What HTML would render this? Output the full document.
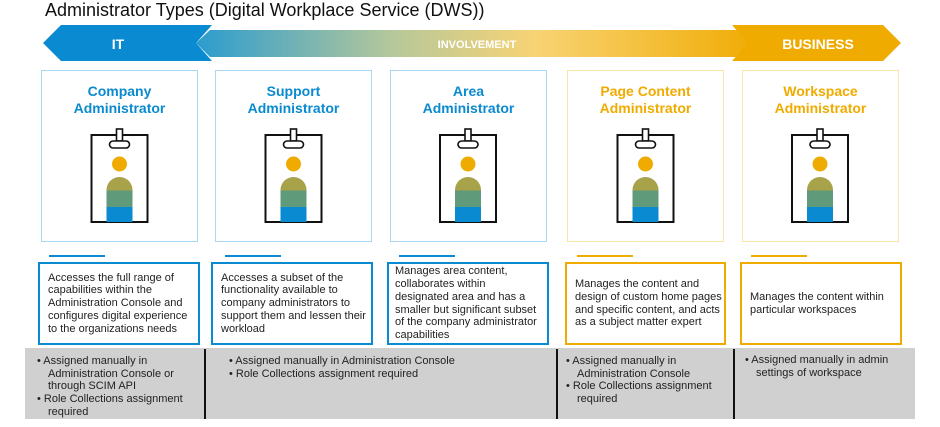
<!DOCTYPE html>
<html><head><meta charset="utf-8"><style>
body{margin:0;width:940px;height:427px;background:#fff;position:relative;overflow:hidden;font-family:"Liberation Sans",Arial,sans-serif}
.a{position:absolute}
.tb{position:absolute;top:70px;height:172px;box-sizing:border-box;border:1.5px solid #a9daf3}
.tb.y{border-color:#fbe4a6}
.tt{position:absolute;top:12px;left:0;right:0;text-align:center;font-weight:bold;font-size:14px;line-height:17px;color:#0a8ad0}
.y .tt{color:#f0ab00}
.ln{position:absolute;top:255px;height:2px;width:56px;background:#0a8ad0}
.ln.y{background:#f0ab00}
.db{position:absolute;top:262px;height:83px;box-sizing:border-box;border:2.5px solid #0a8ad0;font-size:11px;line-height:12.7px;color:#222;padding:0 0 0 8px;display:flex;align-items:center;white-space:nowrap}
.db.y{border-color:#f0ab00}
.g{position:absolute;font-size:11px;line-height:12.7px;color:#222;white-space:nowrap}
.g div{padding-left:11px;text-indent:-11px}
.v{position:absolute;top:349px;height:70px;width:2px;background:#111}
</style></head><body>
<div class="a" style="left:45px;top:0px;font-size:18px;color:#111">Administrator Types (Digital Workplace Service (DWS))</div>
<svg class="a" style="left:0;top:0" width="940" height="70">
<defs><linearGradient id="gr" x1="0" x2="1"><stop offset="0" stop-color="#2b9ccf"/><stop offset="0.35" stop-color="#b7c89a"/><stop offset="0.6" stop-color="#f8d374"/><stop offset="1" stop-color="#f0ab00"/></linearGradient></defs>
<polygon points="210,30 750,30 763,43 750,57 210,57 196,43" fill="url(#gr)"/>
<polygon points="61,25 212,25 196,43 212,61 61,61 43,43" fill="#0a8ad0"/>
<polygon points="732,25 883,25 901,43 883,61 732,61 748,43" fill="#f0ab00"/>
<text x="118" y="49" font-size="14" font-weight="bold" fill="#fff" text-anchor="middle">IT</text>
<text x="477" y="48" font-size="11" font-weight="bold" fill="#fff" text-anchor="middle">INVOLVEMENT</text>
<text x="818" y="49" font-size="14" font-weight="bold" fill="#fff" text-anchor="middle">BUSINESS</text>
</svg>
<div class="tb" style="left:41px;width:157px"><div class="tt">Company<br>Administrator</div></div>
<div class="tb" style="left:215px;width:157px"><div class="tt">Support<br>Administrator</div></div>
<div class="tb" style="left:390px;width:157px"><div class="tt">Area<br>Administrator</div></div>
<div class="tb y" style="left:567px;width:157px"><div class="tt">Page Content<br>Administrator</div></div>
<div class="tb y" style="left:742px;width:157px"><div class="tt">Workspace<br>Administrator</div></div>
<svg class="a" style="left:0;top:0" width="940" height="250">
<defs><g id="b">
<rect x="-28" y="135" width="56" height="87" fill="none" stroke="#111" stroke-width="2"/>
<path d="M-13,191 V190 A13,13 0 0 1 13,190 V191Z" fill="#a8a24a"/>
<rect x="-13" y="190.5" width="26" height="16.5" fill="#5f9a7a"/>
<rect x="-13" y="207" width="26" height="15" fill="#0a8ad0"/>
<circle cx="0" cy="164" r="7.5" fill="#f0ab00"/>
<rect x="-3" y="129" width="6" height="12" fill="#fff" stroke="#111" stroke-width="1.6"/>
<rect x="-10" y="141" width="20" height="7" rx="3.5" fill="#fff" stroke="#111" stroke-width="1.6"/>
</g></defs>
<use href="#b" x="119.5"/><use href="#b" x="293.5"/><use href="#b" x="468"/><use href="#b" x="645.5"/><use href="#b" x="820"/>
</svg>
<div class="ln" style="left:49px"></div><div class="ln" style="left:225px"></div><div class="ln" style="left:399px"></div>
<div class="ln y" style="left:577px"></div><div class="ln y" style="left:751px"></div>
<div class="db" style="left:38px;width:162px"><div>Accesses the full range of<br>capabilities within the<br>Administration Console and<br>configures digital experience<br>to the organizations needs</div></div>
<div class="db" style="left:211px;width:162px"><div>Accesses a subset of the<br>functionality available to<br>company administrators to<br>support them and lessen their<br>workload</div></div>
<div class="db" style="left:387px;width:162px;padding-left:6px"><div>Manages area content,<br>collaborates within<br>designated area and has a<br>smaller but significant subset<br>of the company administrator<br>capabilities</div></div>
<div class="db y" style="left:565px;width:161px"><div>Manages the content and<br>design of custom home pages<br>and specific content, and acts<br>as a subject matter expert</div></div>
<div class="db y" style="left:740px;width:162px"><div>Manages the content within<br>particular workspaces</div></div>
<div class="a" style="left:25px;top:348px;width:890px;height:71px;background:#d0d0d0"></div>
<div class="v" style="left:204px"></div><div class="v" style="left:556px"></div><div class="v" style="left:733px"></div>
<div class="g" style="left:37px;top:355px"><div>• Assigned manually in<br>Administration Console or<br>through SCIM API</div><div>• Role Collections assignment<br>required</div></div>
<div class="g" style="left:229px;top:355px"><div>• Assigned manually in Administration Console</div><div>• Role Collections assignment required</div></div>
<div class="g" style="left:566px;top:355px"><div>• Assigned manually in<br>Administration Console</div><div>• Role Collections assignment<br>required</div></div>
<div class="g" style="left:745px;top:354px"><div>• Assigned manually in admin<br>settings of workspace</div></div>
</body></html>
